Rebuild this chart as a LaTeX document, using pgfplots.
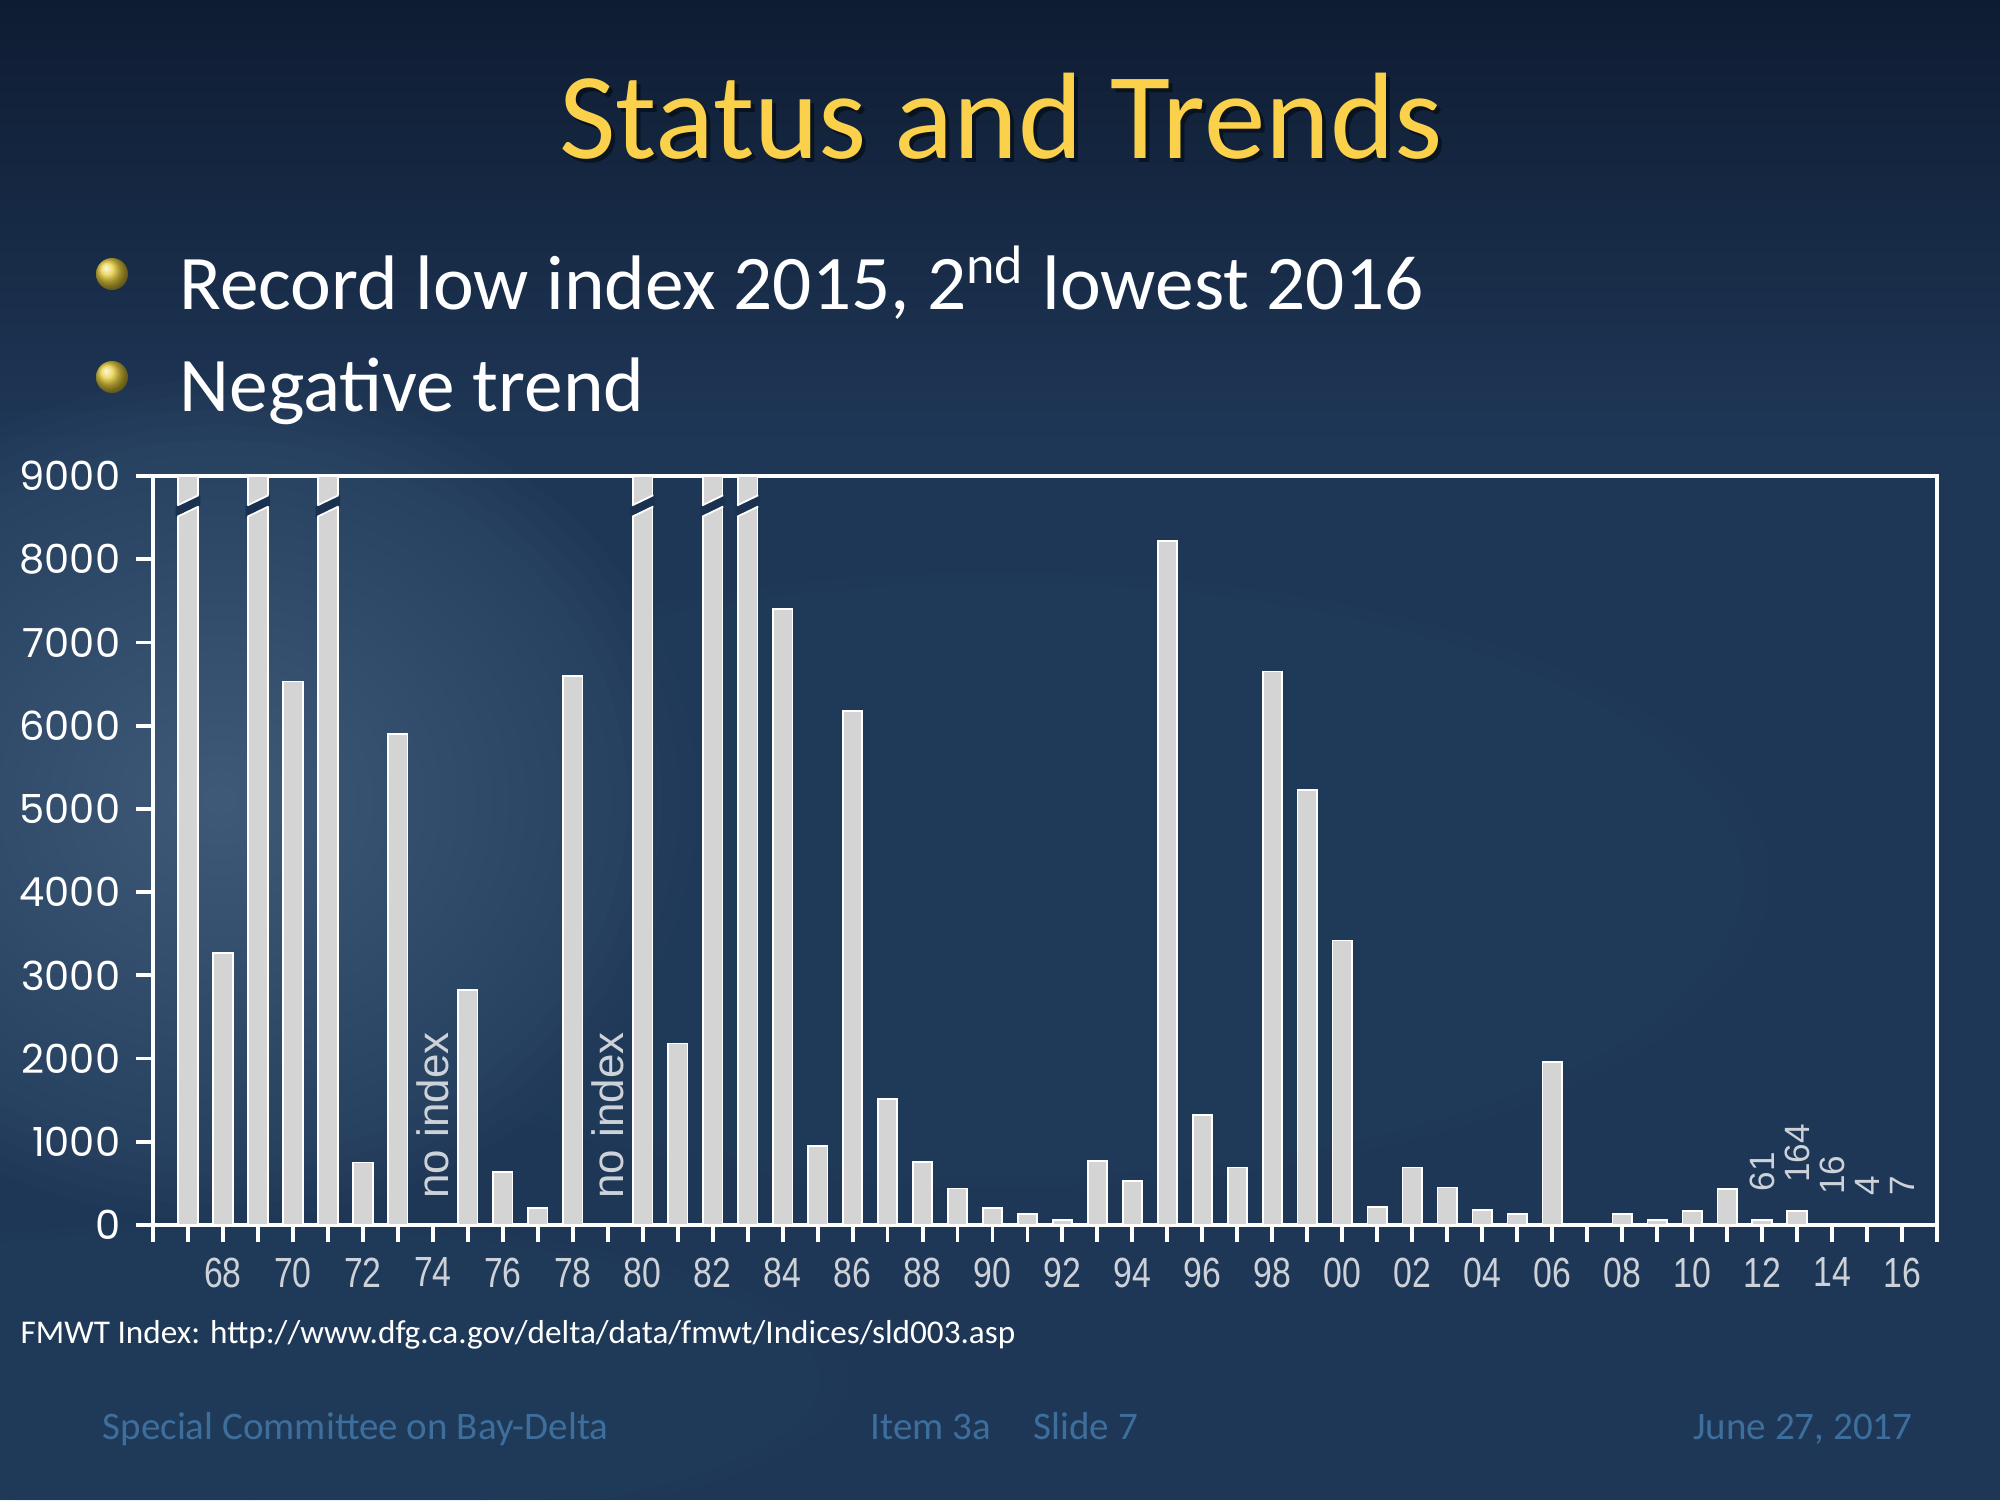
\documentclass[border=0pt]{standalone}
\usepackage{fontspec}
\setmainfont{Carlito}
\newfontfamily\poppins{Poppins}
\newfontfamily\libsans{Liberation Sans}
\usepackage{pgfplots}
\pgfplotsset{compat=1.18}

\definecolor{bgbase}{RGB}{31,55,87}
\definecolor{bgtop}{RGB}{14,28,50}
\definecolor{bglight}{RGB}{100,128,158}
\definecolor{bgmid}{RGB}{72,100,130}
\definecolor{titlegold}{RGB}{251,208,74}
\definecolor{footblue}{RGB}{62,110,155}
\definecolor{barfill}{RGB}{212,212,212}
\definecolor{xlab}{RGB}{205,210,216}
\definecolor{gapcol}{RGB}{27,49,80}
\definecolor{ballc}{RGB}{232,206,60}

\pgfdeclareplotmark{brk}{%
  \pgfpathmoveto{\pgfqpoint{-3.5pt}{-3.3pt}}%
  \pgfpathlineto{\pgfqpoint{3.5pt}{0.1pt}}%
  \pgfpathlineto{\pgfqpoint{3.5pt}{3.3pt}}%
  \pgfpathlineto{\pgfqpoint{-3.5pt}{-0.1pt}}%
  \pgfpathclose
  \pgfusepathqfill
  \pgfpathmoveto{\pgfqpoint{-3.0pt}{-3.05pt}}%
  \pgfpathlineto{\pgfqpoint{3.0pt}{-0.15pt}}%
  \pgfpathmoveto{\pgfqpoint{-3.0pt}{0.15pt}}%
  \pgfpathlineto{\pgfqpoint{3.0pt}{3.05pt}}%
  \pgfusepathqstroke
}

\begin{document}
\begin{tikzpicture}
\useasboundingbox (0,0) rectangle (200mm,150mm);
% background
\fill[bgbase] (0,0) rectangle (200mm,150mm);
\shade[top color=bgtop, bottom color=bgbase] (0,105mm) rectangle (200mm,150mm);
\foreach \r in {1,...,28}{
  \fill[bglight, opacity=0.03] (22mm,70mm) ellipse ({\r*1.7mm} and {\r*1.5mm});
}
\foreach \r in {1,...,28}{
  \fill[bgmid, opacity=0.025] (100mm,62mm) ellipse ({\r*2.75mm} and {\r*1.1mm});
}
\foreach \r in {1,...,20}{
  \fill[bgmid, opacity=0.025] (25mm,12mm) ellipse ({\r*3mm} and {\r*0.8mm});
}

% title
\node[anchor=base, inner sep=0pt, font=\fontsize{35}{42}\selectfont, text=black, opacity=0.45] at (100.5mm,133.7mm) {Status and Trends};
\node[anchor=base, inner sep=0pt, font=\fontsize{35}{42}\selectfont, text=titlegold] at (100.1mm,134.1mm) {Status and Trends};

% bullets
\shade[ball color=ballc] (11.2mm,122.6mm) circle (1.6mm);
\shade[ball color=ballc] (11.2mm,112.3mm) circle (1.6mm);
\node[anchor=base west, inner sep=0pt, font=\fontsize{22}{27}\selectfont, text=white] at (17.9mm,119mm) {Record low index 2015, 2\textsuperscript{nd} lowest 2016};
\node[anchor=base west, inner sep=0pt, font=\fontsize{22}{27}\selectfont, text=white] at (17.9mm,108.8mm) {Negative trend};

\begin{axis}[
  at={(15.3mm,27.5mm)}, anchor=south west, scale only axis,
  width=178.4mm, height=74.9mm,
  xmin=1966, xmax=2017, ymin=0, ymax=9000,
  axis line style={white, line width=1.1pt},
  every tick/.style={white, line width=1.1pt},
  tick align=outside, tickpos=left,
  major tick length=1.7mm, minor tick length=1.7mm,
  xtick={1968,1970,...,2016},
  xticklabels={68,70,72,74,76,78,80,82,84,86,88,90,92,94,96,98,00,02,04,06,08,10,12,14,16},
  minor xtick={1966,1967,...,2017},
  ytick={0,1000,...,9000},
  yticklabels={0,1000,2000,3000,4000,5000,6000,7000,8000,9000},
  xticklabel style={font=\libsans\fontsize{12}{12}\selectfont, text=xlab, xscale=0.8, anchor=north, inner sep=0pt, yshift=-1.5mm},
  yticklabel style={font=\poppins\fontsize{11.4}{12}\selectfont, text=white, anchor=east, inner sep=0pt, xshift=-1.5mm},
]
\addplot[ybar, bar width=1.95mm, fill=barfill, draw=white, line width=0.5pt] coordinates {
(1967,9000) (1968,3270) (1969,9000) (1970,6530) (1971,9000) (1972,750)
(1973,5900) (1975,2820) (1976,640) (1977,200) (1978,6600) (1980,9000)
(1981,2180) (1982,9000) (1983,9000) (1984,7400) (1985,950) (1986,6180)
(1987,1510) (1988,760) (1989,440) (1990,200) (1991,130) (1992,60)
(1993,770) (1994,530) (1995,8220) (1996,1320) (1997,690) (1998,6650)
(1999,5230) (2000,3420) (2001,220) (2002,690) (2003,450) (2004,180)
(2005,130) (2006,1960) (2008,130) (2009,60) (2010,170) (2011,430)
(2012,61) (2013,164) (2014,16) (2015,4) (2016,7)
};
\addplot[only marks, mark=brk, mark options={fill=gapcol, draw=white, line width=0.5pt}] coordinates {
(1967,8640) (1969,8640) (1971,8640) (1980,8640) (1982,8640) (1983,8640)
};
\addplot[draw=none, mark=none, point meta=explicit symbolic, nodes near coords,
  nodes near coords style={rotate=90, anchor=west, inner xsep=2.8mm, inner ysep=0pt, font=\libsans\fontsize{10}{10}\selectfont, text=xlab}]
  coordinates {(2012,61)[61] (2013,164)[164] (2014,16)[16] (2015,4)[4] (2016,7)[7]};
\node[rotate=90, anchor=west, inner sep=0pt, font=\libsans\fontsize{12.5}{12.5}\selectfont, text=xlab] at (axis cs:1974,310) {no index};
\node[rotate=90, anchor=west, inner sep=0pt, font=\libsans\fontsize{12.5}{12.5}\selectfont, text=xlab] at (axis cs:1979,310) {no index};
\end{axis}

% footnote and footer
\node[anchor=base west, inner sep=0pt, font=\fontsize{9.45}{11}\selectfont, text=white] at (2mm,15.7mm) {FMWT Index: http://www.dfg.ca.gov/delta/data/fmwt/Indices/sld003.asp};
\node[anchor=base west, inner sep=0pt, font=\fontsize{11.1}{13}\selectfont, text=footblue] at (10.2mm,6.1mm) {Special Committee on Bay-Delta};
\node[anchor=base west, inner sep=0pt, font=\fontsize{11.1}{13}\selectfont, text=footblue] at (87mm,6.1mm) {Item 3a};
\node[anchor=base west, inner sep=0pt, font=\fontsize{11.1}{13}\selectfont, text=footblue] at (103.3mm,6.1mm) {Slide 7};
\node[anchor=base east, inner sep=0pt, font=\fontsize{11.1}{13}\selectfont, text=footblue] at (191.3mm,6.1mm) {June 27, 2017};
\end{tikzpicture}
\end{document}
